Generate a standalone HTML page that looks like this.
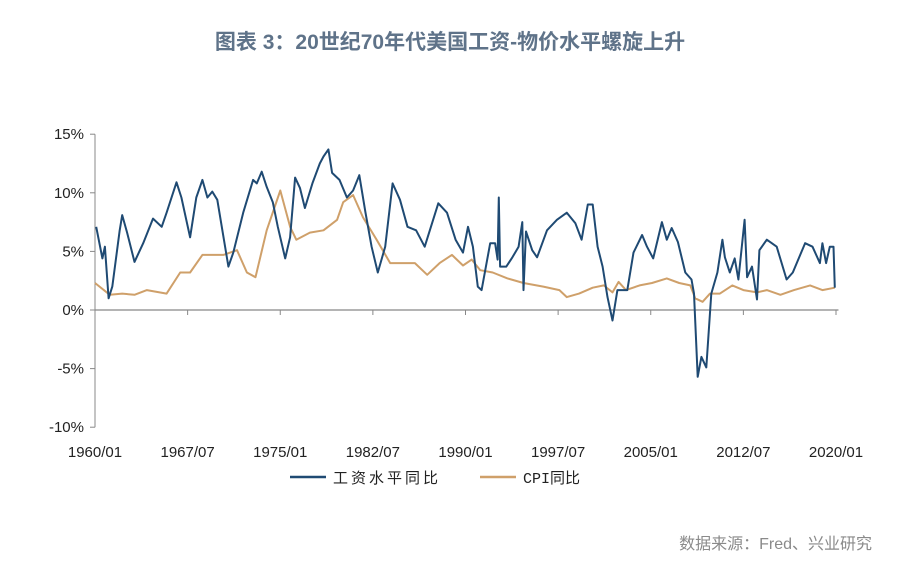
<!DOCTYPE html>
<html><head><meta charset="utf-8">
<style>
body{margin:0;background:#fff;}
#wrap{position:relative;width:900px;height:588px;overflow:hidden;font-family:"Liberation Sans","Noto Sans CJK SC",sans-serif;}
#title{position:absolute;left:0;width:900px;top:26px;text-align:center;font-size:21px;font-weight:bold;color:#5f7389;}
#source{position:absolute;right:28px;top:530px;font-size:16px;color:#8a8a8a;}
</style></head>
<body>
<div id="wrap">
<div id="title">图表 3：20世纪70年代美国工资-物价水平螺旋上升</div>
<svg id="chart" width="900" height="588" style="position:absolute;left:0;top:0"></svg>
<div id="source">数据来源：Fred、兴业研究</div>
</div>
<script>
const yTicks=[-10,-5,0,5,10,15];
const yTickLabels=["-10%","-5%","0%","5%","10%","15%"];
const xTicks=[1960,1967.5,1975,1982.5,1990,1997.5,2005,2012.5,2020];
const xTickLabels=["1960/01","1967/07","1975/01","1982/07","1990/01","1997/07","2005/01","2012/07","2020/01"];
const wageYears=[1960.1,1960.6,1960.8,1961.1,1961.4,1962.0,1962.2,1962.6,1963.2,1963.9,1964.7,1965.4,1965.8,1966.6,1967.0,1967.7,1968.2,1968.7,1969.1,1969.5,1969.9,1970.8,1971.2,1972.0,1972.8,1973.1,1973.5,1973.9,1974.4,1974.8,1975.4,1975.8,1976.2,1976.6,1977.0,1977.6,1978.2,1978.5,1978.9,1979.2,1979.8,1980.4,1980.9,1981.4,1981.9,1982.4,1982.9,1983.5,1984.1,1984.7,1985.3,1986.0,1986.7,1987.8,1988.5,1989.2,1989.8,1990.2,1990.6,1991.0,1991.3,1992.0,1992.4,1992.6,1992.7,1992.8,1993.3,1993.8,1994.3,1994.6,1994.7,1994.9,1995.4,1995.8,1996.6,1997.4,1998.2,1998.9,1999.4,1999.9,2000.3,2000.7,2001.1,2001.5,2001.9,2002.3,2003.1,2003.6,2004.3,2004.7,2005.2,2005.9,2006.3,2006.7,2007.2,2007.8,2008.3,2008.5,2008.8,2009.1,2009.5,2009.9,2010.4,2010.8,2011.0,2011.4,2011.8,2012.1,2012.6,2012.8,2013.2,2013.6,2013.8,2014.4,2014.8,2015.2,2016.0,2016.5,2017.5,2018.1,2018.7,2018.9,2019.2,2019.5,2019.8,2019.9];
const wageValues=[7.1,4.4,5.4,1.0,2.0,6.8,8.1,6.6,4.1,5.7,7.8,7.1,8.3,10.9,9.6,6.2,9.6,11.1,9.6,10.1,9.4,3.7,4.9,8.3,11.1,10.8,11.8,10.5,9.2,7.1,4.4,6.2,11.3,10.4,8.7,10.8,12.5,13.1,13.7,11.7,11.1,9.6,10.2,11.5,8.3,5.4,3.2,5.4,10.8,9.4,7.1,6.8,5.4,9.1,8.3,6.0,4.9,7.1,5.4,2.0,1.7,5.7,5.7,4.3,9.6,3.7,3.7,4.5,5.4,7.5,1.7,6.7,5.1,4.5,6.8,7.7,8.3,7.4,6.0,9.0,9.0,5.4,3.7,1.1,-0.9,1.7,1.7,4.9,6.4,5.4,4.4,7.5,6.0,7.0,5.8,3.2,2.6,1.4,-5.7,-4.0,-4.9,1.4,3.2,6.0,4.5,3.2,4.4,2.6,7.7,2.8,3.7,0.9,5.1,6.0,5.7,5.4,2.6,3.2,5.7,5.4,4.0,5.7,4.0,5.4,5.4,1.9];
const cpiYears=[1960.0,1961.2,1962.2,1963.2,1964.2,1965.8,1966.9,1967.7,1968.7,1970.4,1971.5,1972.3,1973.0,1973.9,1975.0,1975.8,1976.3,1977.4,1978.5,1979.6,1980.1,1980.9,1981.7,1982.8,1983.9,1984.9,1985.9,1986.9,1987.9,1988.9,1989.8,1990.5,1991.2,1992.2,1993.4,1994.7,1996.3,1997.6,1998.2,1999.2,2000.3,2001.2,2001.9,2002.4,2003.0,2004.1,2005.1,2006.3,2007.3,2008.2,2008.6,2009.2,2009.8,2010.6,2011.6,2012.5,2013.6,2014.4,2015.5,2016.6,2017.9,2018.9,2019.9];
const cpiValues=[2.3,1.3,1.4,1.3,1.7,1.4,3.2,3.2,4.7,4.7,5.1,3.2,2.8,6.8,10.2,7.1,6.0,6.6,6.8,7.7,9.2,9.8,7.9,6.0,4.0,4.0,4.0,3.0,4.0,4.7,3.8,4.3,3.4,3.2,2.7,2.3,2.0,1.7,1.1,1.4,1.9,2.1,1.5,2.4,1.7,2.1,2.3,2.7,2.3,2.1,1.0,0.7,1.4,1.4,2.1,1.7,1.5,1.7,1.3,1.7,2.1,1.7,1.9];

const NS="http://www.w3.org/2000/svg";
const svg=document.getElementById('chart');
const X=y=>95+(y-1960)*12.35;
const Y=v=>310-v*11.72;
function mk(tag,attrs){const e=document.createElementNS(NS,tag);for(const k in attrs)e.setAttribute(k,attrs[k]);svg.appendChild(e);return e;}
// y axis
let ya=mk('line',{x1:95,y1:Y(15),x2:95,y2:Y(-10),stroke:'#888','stroke-width':1});


yTicks.forEach((t,i)=>{
 const tk=mk('line',{x1:90,y1:Y(t),x2:95,y2:Y(t),stroke:'#888'});
 
 
 const tx=mk('text',{x:84,y:Y(t)+5,'text-anchor':'end','font-size':15,fill:'#222','font-family':'Liberation Sans, sans-serif'});
 tx.textContent=yTickLabels[i];
 
 
});
let xa=mk('line',{x1:95,y1:Y(0),x2:X(2020.2),y2:Y(0),stroke:'#888','stroke-width':1.2});


xTicks.forEach((t,i)=>{
 const tk=mk('line',{x1:X(t),y1:Y(0),x2:X(t),y2:Y(0)+5,stroke:'#888'});
 
 
 const tx=mk('text',{x:X(t),y:457,'text-anchor':'middle','font-size':15,fill:'#222','font-family':'Liberation Sans, sans-serif'});
 tx.textContent=xTickLabels[i];
 
 
});
function series(xs,vs,color,name){
 const d=xs.map((x,i)=>(i?'L':'M')+X(x).toFixed(1)+','+Y(vs[i]).toFixed(1)).join('');
 const p=mk('path',{d:d,fill:'none',stroke:color,'stroke-width':2,'stroke-linejoin':'round'});
 
 
}
series(cpiYears,cpiValues,'#cfa06a','cpi-line');
series(wageYears,wageValues,'#1f4a73','wage-line');
// legend
let l1=mk('line',{x1:290,y1:477,x2:326,y2:477,stroke:'#1f4a73','stroke-width':2.5});


let t1=mk('text',{x:333,y:483,'font-size':15,fill:'#222','letter-spacing':3,'font-family':'Liberation Mono, Noto Sans CJK SC, monospace'});
t1.textContent='工资水平同比';


let l2=mk('line',{x1:480,y1:477,x2:516,y2:477,stroke:'#cfa06a','stroke-width':2.5});


let t2=mk('text',{x:523,y:483,'font-size':15,fill:'#222','font-family':'Liberation Mono, Noto Sans CJK SC, monospace'});
t2.textContent='CPI同比';


</script>
</body></html>
